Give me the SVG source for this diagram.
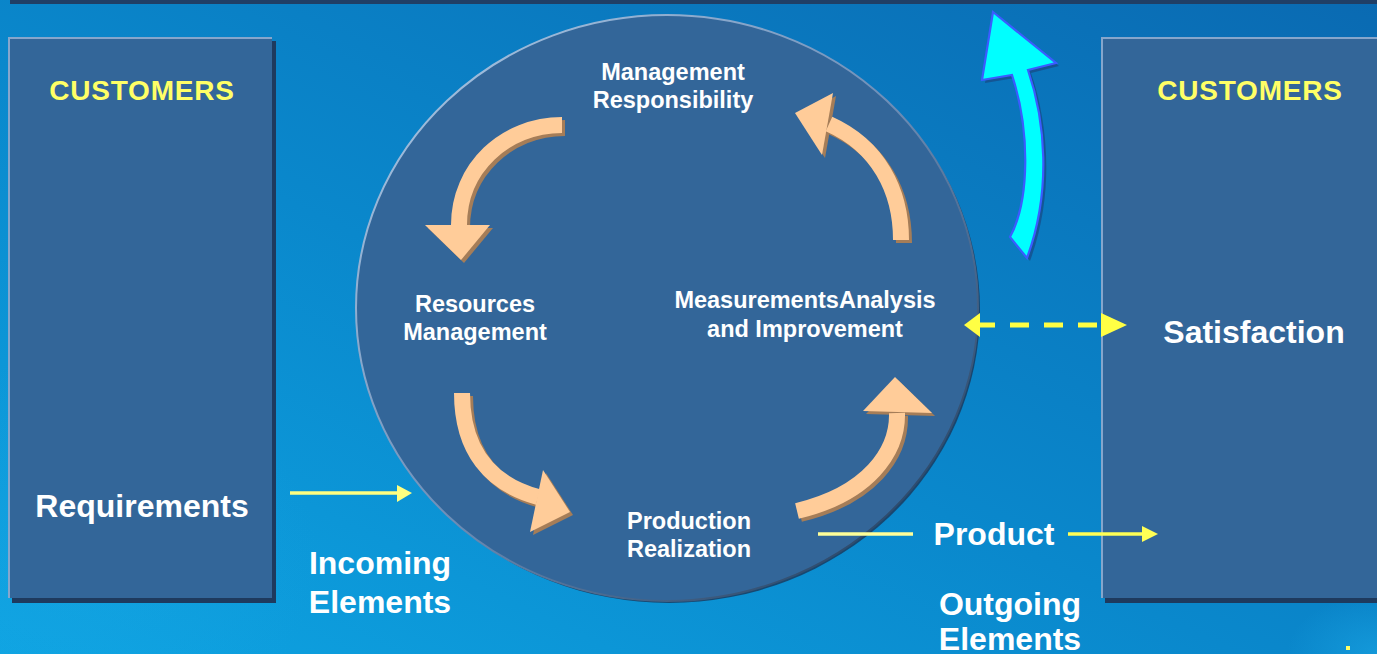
<svg xmlns="http://www.w3.org/2000/svg" width="1377" height="654" viewBox="0 0 1377 654">
<defs>
<linearGradient id="bg" x1="0" y1="1" x2="1" y2="0">
<stop offset="0" stop-color="#0ea4e2"/>
<stop offset="0.45" stop-color="#0a88cc"/>
<stop offset="1" stop-color="#0a6ab2"/>
</linearGradient>
<radialGradient id="glow" cx="0.5" cy="0.5" r="0.5">
<stop offset="0" stop-color="#1aa6e4" stop-opacity="0.6"/>
<stop offset="1" stop-color="#1aa6e4" stop-opacity="0"/>
</radialGradient>
<linearGradient id="rim" x1="0" y1="0" x2="1" y2="1">
<stop offset="0" stop-color="#b0cce8"/>
<stop offset="0.5" stop-color="#6f8fb8"/>
<stop offset="1" stop-color="#14304f"/>
</linearGradient>
</defs>
<style>
.box{fill:#336699;stroke:none}
.boxsh{fill:#1e3a5e}
.boxhl{fill:none;stroke:#86a6cc;stroke-width:2}
.cust{font-family:"Liberation Sans",Arial,sans-serif;font-weight:bold;font-size:28px;letter-spacing:0.8px;fill:#ffff66;text-anchor:middle}
.big{font-family:"Liberation Sans",Arial,sans-serif;font-weight:bold;font-size:32px;fill:#ffffff;text-anchor:middle}
.mid{font-family:"Liberation Sans",Arial,sans-serif;font-weight:bold;font-size:23.5px;fill:#ffffff;text-anchor:middle}
.orng{fill:none;stroke:#ffcc99;stroke-width:16}
.orsh{fill:none;stroke:#a57d58;stroke-width:16}
.headf{fill:#ffcc99}
.heads{fill:#a57d58}
.yl{stroke:#ffff80;stroke-width:3.5;fill:none}
</style>
<rect x="0" y="0" width="1377" height="654" fill="url(#bg)"/>
<ellipse cx="1377" cy="654" rx="90" ry="60" fill="url(#glow)"/>
<ellipse cx="60" cy="560" rx="260" ry="200" fill="url(#glow)" opacity="0.6"/>
<rect x="10" y="0" width="1367" height="4" fill="#203f66"/>

<g id="customers-left">
<rect class="boxsh" x="12" y="41" width="264" height="562"/>
<rect class="box" x="8" y="37" width="264" height="561"/>
<path class="boxhl" d="M9,598 L9,38 L272,38"/>
<text class="cust" x="142" y="100">CUSTOMERS</text>
<text class="big" x="142" y="517">Requirements</text>
</g>

<g id="customers-right">
<rect class="boxsh" x="1105" y="41" width="280" height="562"/>
<rect class="box" x="1101" y="37" width="280" height="561"/>
<path class="boxhl" d="M1102,598 L1102,38 L1377,38"/>
<text class="cust" x="1250" y="100">CUSTOMERS</text>
<text class="big" x="1254" y="343">Satisfaction</text>
</g>

<g id="process-circle">
<ellipse cx="669" cy="310" rx="311" ry="293" fill="#1c3658" opacity="0.8"/>
<ellipse cx="667" cy="308" rx="311" ry="293" fill="#336699" stroke="url(#rim)" stroke-width="2"/>
</g>

<g id="management-responsibility">
<text class="mid" x="673" y="80">Management</text>
<text class="mid" x="673" y="108">Responsibility</text>
</g>
<g id="resources-management">
<text class="mid" x="475" y="312">Resources</text>
<text class="mid" x="475" y="340">Management</text>
</g>
<g id="measurements">
<text class="mid" x="805" y="308">MeasurementsAnalysis</text>
<text class="mid" x="805" y="337">and Improvement</text>
</g>
<g id="production-realization">
<text class="mid" x="689" y="529">Production</text>
<text class="mid" x="689" y="557">Realization</text>
</g>
<g id="incoming-elements">
<text class="big" x="380" y="574">Incoming</text>
<text class="big" x="380" y="613">Elements</text>
</g>
<g id="outgoing-elements">
<text class="big" x="1010" y="615">Outgoing</text>
<text class="big" x="1010" y="650">Elements</text>
</g>
<g id="product">
<text class="big" x="994" y="545">Product</text>
</g>

<g id="connectors">
<g transform="translate(3,3)">
<path class="orsh" d="M562,125 C505,125 459,168 459,225"/>
<polygon class="heads" points="425,225 490,225 461,260"/>
<path class="orsh" d="M901,240 C901,190 878,146 829,124"/>
<polygon class="heads" points="795,113 833,93 822,155"/>
<path class="orsh" d="M462,393 C462,450 490,484 538,497"/>
<polygon class="heads" points="543,470 570,512 530,532"/>
<path class="orsh" d="M797,511 C868,494 898,452 897,413"/>
<polygon class="heads" points="863,411 895,377 932,413"/>
</g>
<path class="orng" d="M562,125 C505,125 459,168 459,225"/>
<polygon class="headf" points="425,225 490,225 461,260"/>
<path class="orng" d="M901,240 C901,190 878,146 829,124"/>
<polygon class="headf" points="795,113 833,93 822,155"/>
<path class="orng" d="M462,393 C462,450 490,484 538,497"/>
<polygon class="headf" points="543,470 570,512 530,532"/>
<path class="orng" d="M797,511 C868,494 898,452 897,413"/>
<polygon class="headf" points="863,411 895,377 932,413"/>

<path d="M996,15 L1059,66 L1031,73 C1048,123 1055,193 1030,261 L1013,240 C1033,203 1033,133 1015,78 L985,83 Z" fill="#1a3f7a" opacity="0.6"/>
<path d="M993,12 L1056,63 L1028,70 C1045,120 1052,190 1027,258 L1010,237 C1030,200 1030,130 1012,75 L982,80 Z" fill="#00ffff" stroke="#3a5cff" stroke-width="2.2" stroke-linejoin="miter"/>

<line class="yl" x1="290" y1="493" x2="398" y2="493"/>
<polygon points="397,485 412,493 397,502" fill="#ffff80"/>

<line x1="818" y1="534" x2="913" y2="534" stroke="#ffff99" stroke-width="3.5"/>
<line x1="1068" y1="534" x2="1143" y2="534" stroke="#ffff55" stroke-width="3.5"/>
<polygon points="1142,526 1158,534 1142,542" fill="#ffff55"/>

<line x1="980" y1="325" x2="1101" y2="325" stroke="#ffff44" stroke-width="5" stroke-dasharray="15 15 19 15 19 15 19 15"/>
<polygon points="980,313 964,325 980,337" fill="#ffff44"/>
<polygon points="1101,313 1127,325 1101,337" fill="#ffff44"/>
</g>
<rect x="1346" y="646" width="4" height="4" fill="#ffff66"/>
</svg>
